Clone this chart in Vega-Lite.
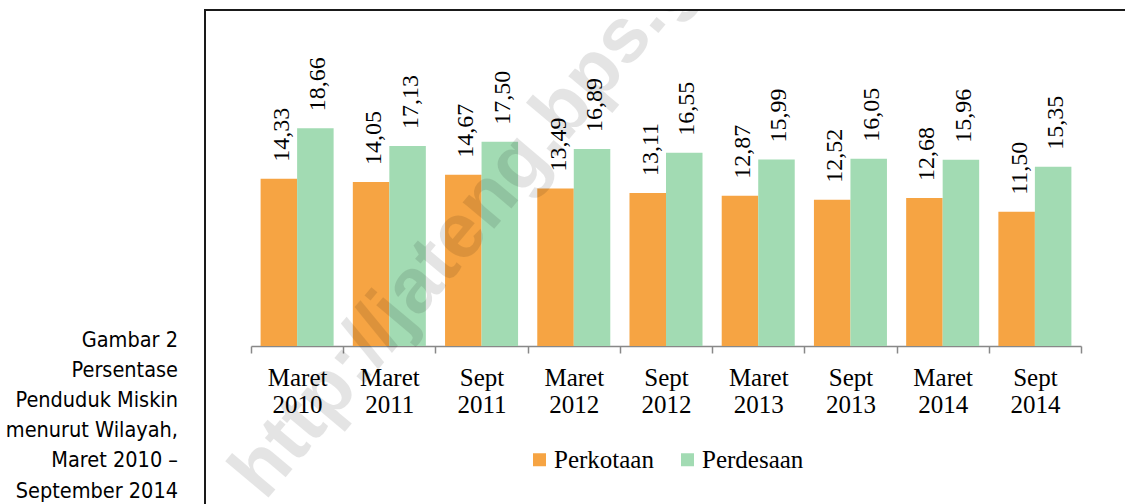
{
  "$schema": "https://vega.github.io/schema/vega-lite/v6.json",
  "width": 920,
  "height": 494,
  "autosize": {"type": "none"},
  "padding": {"left": 205, "top": 10, "right": 0, "bottom": 0},
  "background": "white",
  "config": {
    "locale": {"number": {"decimal": ",", "thousands": ".", "grouping": [3], "currency": ["", ""]}},
    "view": {"stroke": "#1a1a1a", "strokeWidth": 2, "strokeDash": [920, 1414, 494]},
    "font": "Liberation Serif"
  },
  "title": {
    "text": ["Gambar 2", "Persentase", "Penduduk Miskin", "menurut Wilayah,", "Maret 2010 –", "September 2014"],
    "anchor": "start",
    "frame": "group",
    "align": "right",
    "baseline": "top",
    "dx": -27,
    "dy": 492,
    "offset": 0,
    "font": "DejaVu Sans Condensed",
    "fontSize": 21.5,
    "fontWeight": "normal",
    "lineHeight": 30.2,
    "color": "black"
  },
  "data": {
    "values": [
      {"periode": "Maret 2010", "wilayah": "Perkotaan", "nilai": 14.33},
      {"periode": "Maret 2010", "wilayah": "Perdesaan", "nilai": 18.66},
      {"periode": "Maret 2011", "wilayah": "Perkotaan", "nilai": 14.05},
      {"periode": "Maret 2011", "wilayah": "Perdesaan", "nilai": 17.13},
      {"periode": "Sept 2011", "wilayah": "Perkotaan", "nilai": 14.67},
      {"periode": "Sept 2011", "wilayah": "Perdesaan", "nilai": 17.50},
      {"periode": "Maret 2012", "wilayah": "Perkotaan", "nilai": 13.49},
      {"periode": "Maret 2012", "wilayah": "Perdesaan", "nilai": 16.89},
      {"periode": "Sept 2012", "wilayah": "Perkotaan", "nilai": 13.11},
      {"periode": "Sept 2012", "wilayah": "Perdesaan", "nilai": 16.55},
      {"periode": "Maret 2013", "wilayah": "Perkotaan", "nilai": 12.87},
      {"periode": "Maret 2013", "wilayah": "Perdesaan", "nilai": 15.99},
      {"periode": "Sept 2013", "wilayah": "Perkotaan", "nilai": 12.52},
      {"periode": "Sept 2013", "wilayah": "Perdesaan", "nilai": 16.05},
      {"periode": "Maret 2014", "wilayah": "Perkotaan", "nilai": 12.68},
      {"periode": "Maret 2014", "wilayah": "Perdesaan", "nilai": 15.96},
      {"periode": "Sept 2014", "wilayah": "Perkotaan", "nilai": 11.50},
      {"periode": "Sept 2014", "wilayah": "Perdesaan", "nilai": 15.35}
    ]
  },
  "layer": [
    {
      "mark": {"type": "bar"},
      "encoding": {
        "x": {
          "field": "periode", "type": "nominal",
          "scale": {"domain": ["Maret 2010", "Maret 2011", "Sept 2011", "Maret 2012", "Sept 2012", "Maret 2013", "Sept 2013", "Maret 2014", "Sept 2014"], "range": [46, 876], "paddingInner": 0, "paddingOuter": 0},
          "axis": {
            "title": null,
            "orient": "bottom",
            "offset": -158,
            "labelAngle": 0,
            "labelExpr": "split(datum.label, ' ')",
            "labelFont": "Liberation Serif",
            "labelFontSize": 25,
            "labelColor": "black",
            "labelLineHeight": 27,
            "labelPadding": 12,
            "labelBaseline": "top",
            "domainColor": "#888888",
            "domainWidth": 1.5,
            "tickColor": "#888888",
            "tickWidth": 1.5,
            "tickSize": 7,
            "tickBand": "extent",
            "grid": false
          }
        },
        "xOffset": {"field": "wilayah", "type": "nominal", "sort": ["Perkotaan", "Perdesaan"], "scale": {"paddingInner": 0, "paddingOuter": 0.263}},
        "y": {"field": "nilai", "type": "quantitative", "scale": {"domain": [-13.54, 28.79], "nice": false, "zero": false}, "axis": null},
        "color": {
          "field": "wilayah", "type": "nominal",
          "scale": {"domain": ["Perkotaan", "Perdesaan"], "range": ["#F6A443", "#A2DBB3"]},
          "legend": {
            "orient": "none", "legendX": 322, "legendY": 437, "direction": "horizontal", "title": null,
            "symbolType": "square", "symbolSize": 169, "symbolStrokeWidth": 0,
            "labelFont": "Liberation Serif", "labelFontSize": 25, "labelColor": "black",
            "columnPadding": 21, "labelOffset": 2, "padding": 0
          }
        }
      }
    },
    {
      "mark": {"type": "text", "angle": 270, "align": "left", "baseline": "alphabetic", "dx": 17, "dy": 10, "fontSize": 24, "font": "Liberation Serif", "color": "black"},
      "encoding": {
        "x": {"field": "periode", "type": "nominal"},
        "xOffset": {"field": "wilayah", "type": "nominal", "sort": ["Perkotaan", "Perdesaan"]},
        "y": {"field": "nilai", "type": "quantitative"},
        "text": {"field": "nilai", "type": "quantitative", "format": ".2f"}
      }
    },
    {
      "data": {"values": [{"periode": "Sept 2011", "nilai": 14.65, "wm": "http://jateng.bps.go.id"}]},
      "mark": {"type": "text", "clip": true, "angle": 310, "align": "center", "baseline": "middle", "fontSize": 78, "font": "Liberation Sans", "fontWeight": "bold", "color": "black", "opacity": 0.1},
      "encoding": {
        "x": {"field": "periode", "type": "nominal", "bandPosition": 0.8},
        "y": {"field": "nilai", "type": "quantitative"},
        "text": {"field": "wm", "type": "nominal"}
      }
    }
  ]
}
